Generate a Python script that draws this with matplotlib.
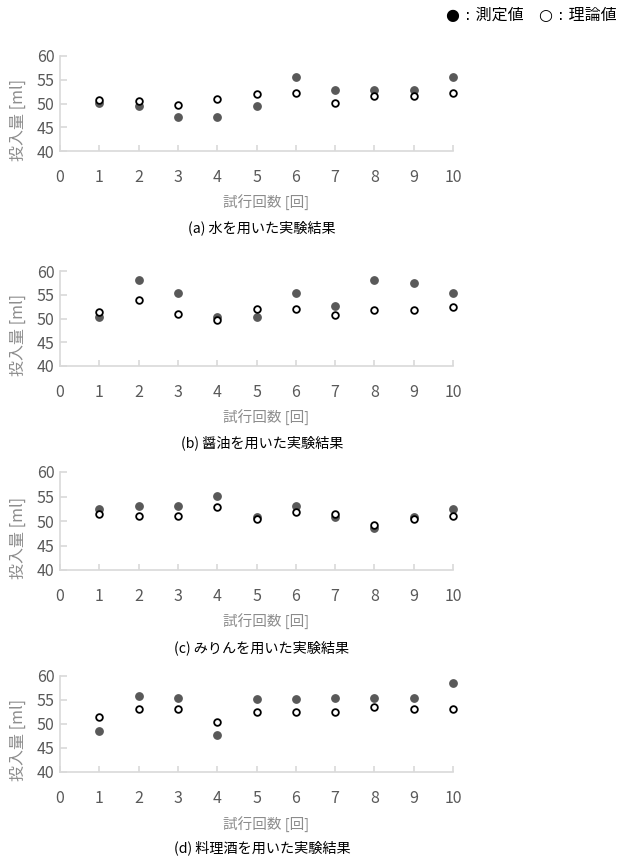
import numpy as np
import matplotlib
matplotlib.use("Agg")
import matplotlib.pyplot as plt

plt.rcParams['font.family'] = ['Noto Sans CJK JP', 'DejaVu Sans']

trials = [1, 2, 3, 4, 5, 6, 7, 8, 9, 10]

# (a) water
water_meas = [50.2, 49.5, 47.1, 47.1, 49.5, 55.6, 52.9, 52.9, 52.9, 55.6]
water_theo = [50.8, 50.6, 49.6, 50.9, 51.9, 52.2, 50.2, 51.5, 51.5, 52.2]
# (b) soy sauce
soy_meas = [50.3, 58.1, 55.4, 50.4, 50.3, 55.4, 52.7, 58.1, 57.5, 55.4]
soy_theo = [51.4, 54.0, 51.0, 49.7, 52.1, 52.1, 50.7, 51.7, 51.7, 52.4]
# (c) mirin
mirin_meas = [52.5, 53.1, 53.1, 55.1, 50.8, 53.1, 50.9, 48.5, 50.8, 52.5]
mirin_theo = [51.5, 51.1, 51.1, 52.8, 50.4, 51.8, 51.5, 49.1, 50.4, 51.1]
# (d) cooking sake
sake_meas = [48.5, 55.9, 55.5, 47.8, 55.2, 55.2, 55.5, 55.5, 55.5, 58.6]
sake_theo = [51.5, 53.2, 53.2, 50.5, 52.5, 52.5, 52.5, 53.5, 53.2, 53.2]

captions = ['(a) 水を用いた実験結果', '(b) 醤油を用いた実験結果',
            '(c) みりんを用いた実験結果', '(d) 料理酒を用いた実験結果']
series = [(water_meas, water_theo), (soy_meas, soy_theo),
          (mirin_meas, mirin_theo), (sake_meas, sake_theo)]

W, H = 629, 859
fig = plt.figure(figsize=(W / 100, H / 100), dpi=100)

# pixel rows: (top of axes, bottom of axes, xlabel y, caption y)
rows = [(56, 151, 203, 228), (271, 366, 418, 443),
        (472, 570, 622, 648), (676, 772, 825, 848)]
left, right = 60, 453
axc = '#d9d9d9'

for (meas, theo), cap, (top, bot, xl_y, cap_y) in zip(series, captions, rows):
    ax = fig.add_axes([left / W, 1 - bot / H, (right - left) / W, (bot - top) / H])
    ax.plot(trials, meas, 'o', color='#595959', ms=5.3, mec='#595959', zorder=3, clip_on=False)
    ax.plot(trials, theo, 'o', mfc='white', mec='black', mew=1.3, ms=4.8, zorder=4, clip_on=False)
    ax.set_xlim(0, 10)
    ax.set_ylim(40, 60)
    ax.set_xticks(range(0, 11))
    ax.set_yticks([40, 45, 50, 55, 60])
    for s in ['top', 'right']:
        ax.spines[s].set_visible(False)
    for s in ['left', 'bottom']:
        ax.spines[s].set_color(axc)
        ax.spines[s].set_linewidth(1.2)
    ax.tick_params(axis='x', direction='in', length=4, color=axc, width=1.2,
                   pad=13, labelsize=11.5, labelcolor='#595959')
    ax.tick_params(axis='y', direction='in', length=5, color=axc, width=1.2,
                   pad=4, labelsize=11.5, labelcolor='#595959')
    ax.set_ylabel('投入量 [ml]', fontsize=11.5, color='#8c8c8c')
    ax.yaxis.set_label_coords(-0.085, 0.33)
    fig.text(266 / W, 1 - xl_y / H, '試行回数 [回]', ha='center', va='center',
             fontsize=10.5, color='#8c8c8c')
    fig.text(262 / W, 1 - cap_y / H, cap, ha='center', va='center',
             fontsize=10.2, color='black')

fig.text(617 / W, 1 - 15 / H, '● : 測定値   ○ : 理論値', ha='right', va='center',
         fontsize=11.5, color='black', family=['DejaVu Sans', 'Noto Sans CJK JP'])

fig.savefig('out.png', dpi=100)
